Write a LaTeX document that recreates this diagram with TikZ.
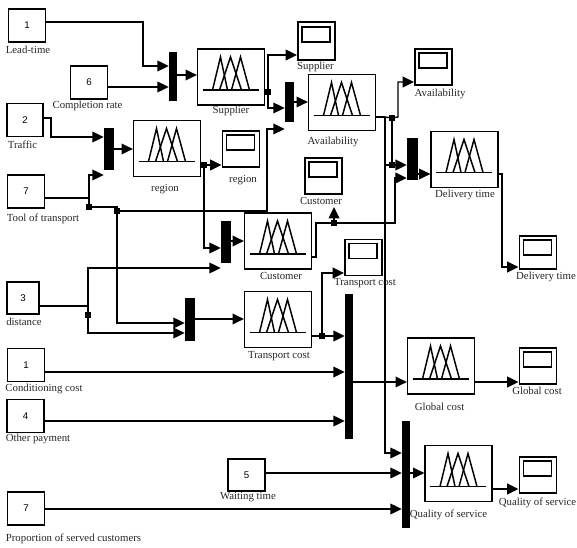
\documentclass[tikz,border=0pt]{standalone}
\usepackage{fontspec}
\setmainfont{Liberation Serif}
\setsansfont{Liberation Sans}
\usetikzlibrary{arrows.meta, calc}
\definecolor{lcol}{HTML}{262626}
\tikzset{
  inbox/.style={draw, line width=1.2pt, inner sep=0pt, minimum width=28pt, minimum height=25pt, font=\sffamily\fontsize{7.3}{9}\selectfont},
  fzbox/.style={draw, line width=1.2pt, inner sep=0pt, minimum width=50pt, minimum height=42pt},
  scbox/.style={draw, line width=1.2pt, inner sep=0pt, minimum width=28pt, minimum height=27pt},
  muxbar/.style={fill=black, inner sep=0pt},
  junc/.style={fill=black, inner sep=0pt, minimum size=4.4pt},
  lab/.style={lcol, inner sep=0pt, font=\fontsize{8.1}{10}\selectfont},
  wire/.style={line width=1.05pt},
  pics/fzicon/.style={code={
    \draw[line width=1.1pt] (-28.5,13) -- (27.5,13);
    \draw[line width=1.1pt] (-18.5,13) -- (-10.5,-20) -- (-3.5,13);
    \draw[line width=1.1pt] (-11.5,13) -- (-0.5,-20) -- (10.5,13);
    \draw[line width=1.1pt] (0.5,13) -- (9.5,-20) -- (18.5,13);
  }},
  pics/scicon/.style={code={
    \draw[line width=1.2pt] (-14.5,-14) rectangle (13.5,1);
  }}
}
\begin{document}
\begin{tikzpicture}[x=0.75pt, y=-0.75pt, >={Triangle[length=8.5pt, width=8pt]}]
\useasboundingbox (0,0) rectangle (577,548);
% inputs
\node[inbox] (inlead) at (27,25.5) {1};
\node[inbox] (incomp) at (89,82.5) {6};
\node[inbox, minimum width=27pt] (intraf) at (25,120) {2};
\node[inbox] (intool) at (26,191.5) {7};
\node[inbox, minimum width=24pt, minimum height=24pt] (indist) at (23,298) {3};
\node[inbox] (incond) at (26,365) {1};
\node[inbox] (inpay) at (25.5,416) {4};
\node[inbox, minimum height=24pt] (inwait) at (246.5,475) {5};
\node[inbox] (inprop) at (26,508.5) {7};
\node[lab] (lblead) at (28,50) {Lead-time};
\node[lab] (lbcomp) at (87.5,105.5) {Completion rate};
\node[lab] (lbtraf) at (22.5,144.5) {Traffic};
\node[lab] (lbtool) at (43,219) {Tool of transport};
\node[lab] (lbdist) at (24,322) {distance};
\node[lab] (lbcond) at (44,389) {Conditioning cost};
\node[lab] (lbpay) at (38,439) {Other payment};
\node[lab] (lbwait) at (248,497.5) {Waiting time};
\node[lab] (lbprop) at (73.5,538.5) {Proportion of served customers};
% fuzzy blocks
\node[fzbox] (fzsup) at (231,77) {};
\node[fzbox] (fzreg) at (167,148.5) {};
\node[fzbox] (fzava) at (342,102.5) {};
\node[fzbox] (fzdel) at (464.5,159.5) {};
\node[fzbox] (fzcus) at (278,241) {};
\node[fzbox] (fztra) at (278,319.5) {};
\node[fzbox] (fzglo) at (441,366) {};
\node[fzbox] (fzqua) at (458.5,473.5) {};
\pic at (fzsup) {fzicon};
\pic at (fzreg) {fzicon};
\pic at (fzava) {fzicon};
\pic at (fzdel) {fzicon};
\pic at (fzcus) {fzicon};
\pic at (fztra) {fzicon};
\pic at (fzglo) {fzicon};
\pic at (fzqua) {fzicon};
\node[lab] (lbsup) at (231,111) {Supplier};
\node[lab] (lbreg) at (165,189) {region};
\node[lab] (lbava) at (333,142) {Availability};
\node[lab] (lbdel) at (465,195) {Delivery time};
\node[lab] (lbcus) at (281,276) {Customer};
\node[lab] (lbtra) at (279,356) {Transport cost};
\node[lab] (lbglo) at (439.5,407) {Global cost};
\node[lab] (lbqua) at (448.5,515) {Quality of service};
% scopes
\node[scbox, minimum height=28.5pt] (scsup) at (316.5,41) {};
\node[scbox] (scava) at (433.5,67) {};
\node[scbox] (screg) at (241,149) {};
\node[scbox] (sccus) at (323.5,176) {};
\node[scbox] (sctra) at (363.5,257.5) {};
\node[scbox, minimum height=25pt] (scdel) at (538,252.5) {};
\node[scbox] (scglo) at (538,366) {};
\node[scbox] (scqua) at (538,475) {};
\pic at (scsup) {scicon};
\pic at (scava) {scicon};
\pic at (screg) {scicon};
\pic at (sccus) {scicon};
\pic at (sctra) {scicon};
\pic[yshift=-1pt] at (scdel) {scicon};
\pic at (scglo) {scicon};
\pic at (scqua) {scicon};
\node[lab] (lbssup) at (315.5,67) {Supplier};
\node[lab] (lbsava) at (440,94) {Availability};
\node[lab] (lbsreg) at (243,180) {region};
\node[lab] (lbscus) at (321,201) {Customer};
\node[lab] (lbstra) at (365,283) {Transport cost};
\node[lab] (lbsdel) at (546,277) {Delivery time};
\node[lab] (lbsglo) at (537,391) {Global cost};
\node[lab, anchor=east] (lbsqua) at (576.5,503) {Quality of service};
% mux bars
\node[muxbar, minimum width=6pt, minimum height=37pt] (muxsup) at (173,76.5) {};
\node[muxbar, minimum width=7.5pt, minimum height=32pt] (muxreg) at (109,149) {};
\node[muxbar, minimum width=6.8pt, minimum height=30pt] (muxava) at (289.5,102) {};
\node[muxbar, minimum width=8.2pt, minimum height=31.5pt] (muxdel) at (412.5,159) {};
\node[muxbar, minimum width=7.5pt, minimum height=31.5pt] (muxcus) at (226,242) {};
\node[muxbar, minimum width=7.5pt, minimum height=32pt] (muxtra) at (190,319.5) {};
\node[muxbar, minimum width=6pt, minimum height=109pt] (muxglo) at (349,366.5) {};
\node[muxbar, minimum width=6pt, minimum height=80pt] (muxqua) at (406,474.5) {};
% junctions
\node[junc] (jsup) at (268,92) {};
\node[junc] (jreg) at (204,165) {};
\node[junc] (jtool) at (89,207) {};
\node[junc] (jtran) at (117,211) {};
\node[junc] (jdist) at (88,315) {};
\node[junc] (jcus) at (334,223) {};
\node[junc] (jtrc) at (322,336) {};
\node[junc] (jav1) at (392,118) {};
\node[junc] (jav2) at (392,165) {};
% connectors
\draw[wire, ->] (inlead.east |- 0,22) -- (143,22) |- (muxsup.west |- 0,66);
\draw[wire, ->] (incomp.east |- 0,87) -- (muxsup.west |- 0,87);
\draw[wire, ->] (muxsup.east |- 0,75) -- (fzsup.west |- 0,75);
\draw[wire] (fzsup.east |- jsup) -- (jsup);
\draw[wire, ->] (jsup) |- (scsup.west |- 0,55);
\draw[wire, ->] (jsup) |- (muxava.west |- 0,108);
\draw[wire, ->] (muxava.east |- 0,102) -- (fzava.west |- 0,102);
\draw[wire, ->] (intraf.east |- 0,118) -- (51,118) |- (muxreg.west |- 0,137);
\draw[wire, ->] (muxreg.east |- 0,149) -- (fzreg.west |- 0,149);
\draw[wire] (fzreg.east |- jreg) -- (jreg);
\draw[wire, ->] (jreg) -- (screg.west |- jreg);
\draw[wire, ->] (jreg) |- (muxcus.west |- 0,248);
\draw[wire, ->] (intool.east |- 0,198) -- (89,198) |- (muxreg.west |- 0,175);
\draw[wire] (89,198) -- (jtool);
\draw[wire] (jtool) -| (jtran);
\draw[wire, ->] (jtran) -| (267,129) -- (muxava.west |- 0,129);
\draw[wire, ->] (jtran) |- (muxtra.west |- 0,323);
\draw[wire, ->] (indist.east |- 0,306) -- (88,306) |- (muxcus.west |- 0,268);
\draw[wire, ->] (88,306) -- (jdist) |- (muxtra.west |- 0,333);
\draw[wire, ->] (muxcus.east |- 0,241) -- (fzcus.west |- 0,241);
\draw[wire, ->] (muxtra.east |- 0,319) -- (fztra.west |- 0,319);
\draw[wire] (fzcus.east |- 0,257) -- (316,257) |- (jcus);
\draw[wire, ->] (jcus) -- (jcus |- 0,207);
\draw[wire, ->] (jcus) -- (395,223) |- (muxdel.west |- 0,178);
\draw[wire] (fzava.east |- 0,117) -- (385,117);
\draw[wire] (385,117) -- (jav1);
\draw[wire, ->] (jav1) -- (398,117) |- (scava.west |- 0,82);
\draw[wire] (jav1) -- (jav2);
\draw[wire, ->] (385,165) -- (muxdel.west |- 0,165);
\draw[wire, ->] (385,117) |- (muxqua.west |- 0,453);
\draw[wire, ->] (muxdel.east |- 0,174) -- (fzdel.west |- 0,174);
\draw[wire, ->] (fzdel.east |- 0,174) -- (502,174) |- (scdel.west |- 0,267);
\draw[wire, ->] (fztra.east |- jtrc) -- (muxglo.west |- jtrc);
\draw[wire, ->] (jtrc) |- (sctra.west |- 0,273);
\draw[wire, ->] (incond.east |- 0,372) -- (muxglo.west |- 0,372);
\draw[wire, ->] (inpay.east |- 0,421) -- (muxglo.west |- 0,421);
\draw[wire, ->] (muxglo.east |- 0,382) -- (fzglo.west |- 0,382);
\draw[wire, ->] (fzglo.east |- 0,382) -- (scglo.west |- 0,382);
\draw[wire, ->] (inwait.east |- 0,473) -- (muxqua.west |- 0,473);
\draw[wire, ->] (inprop.east |- 0,509) -- (muxqua.west |- 0,509);
\draw[wire, ->] (muxqua.east |- 0,473) -- (fzqua.west |- 0,473);
\draw[wire, ->] (fzqua.east |- 0,489) -- (scqua.west |- 0,489);
\end{tikzpicture}
\end{document}
